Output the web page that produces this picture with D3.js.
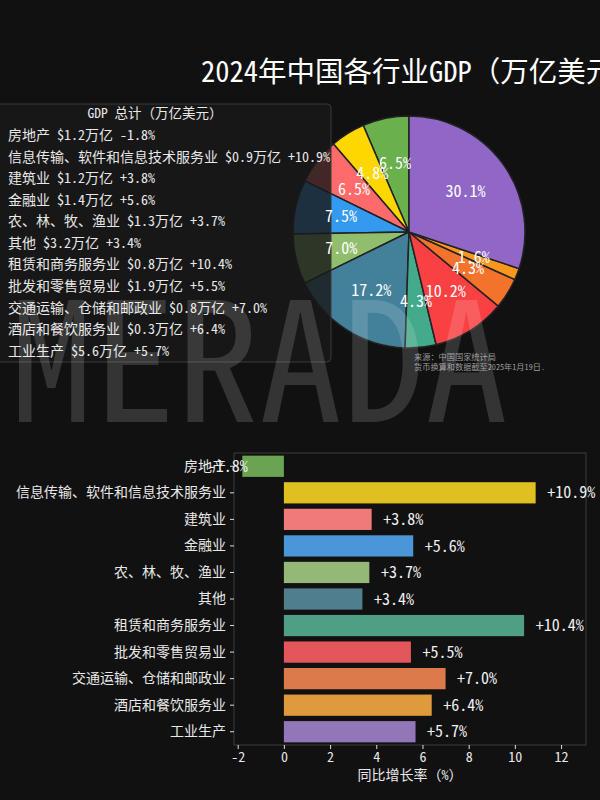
<!DOCTYPE html>
<html><head><meta charset="utf-8">
<script src="https://cdn.jsdelivr.net/npm/d3@7"></script>
<style>
html,body{margin:0;padding:0;background:#111111;}
svg{display:block;font-family:"Noto Sans Mono CJK SC","Noto Sans CJK SC",sans-serif;}
</style></head>
<body><svg id="c" width="600" height="800"></svg>
<script>
const categories = ['房地产','信息传输、软件和信息技术服务业','建筑业','金融业','农、林、牧、渔业','其他','租赁和商务服务业','批发和零售贸易业','交通运输、仓储和邮政业','酒店和餐饮服务业','工业生产'];
const gdp = [1.2, 0.9, 1.2, 1.4, 1.3, 3.2, 0.8, 1.9, 0.8, 0.3, 5.6];
const growth = [-1.8, 10.9, 3.8, 5.6, 3.7, 3.4, 10.4, 5.5, 7.0, 6.4, 5.7];
const pieColors = ['#6ab04c','#ffd700','#ff6b6b','#339af0','#90be6d','#43819a','#43aa8b','#f94144','#f3722c','#f8961e','#9067c6'];
const barColors = ['#6aa452','#e0c020','#ee7a7a','#4a96d8','#93b877','#4f7f8f','#4f9e86','#e3575c','#dd7a4a','#e09a3e','#9277b8'];
const xTicks = [-2, 0, 2, 4, 6, 8, 10, 12];
const titleText = '2024年中国各行业GDP（万亿美元）';
const legendTitle = 'GDP 总计（万亿美元）';
const sourceLines = ['来源：中国国家统计局', '货币换算和数据截至2025年1月19日.'];
const xLabel = '同比增长率（%）';
const watermark = 'MERADA';

const data = categories.map((c,i)=>({cat:c, gdp:gdp[i], growth:growth[i], pc:pieColors[i], bc:barColors[i]}));
const svg = d3.select('#c');
const total = d3.sum(gdp);
const FF = '"Noto Sans Mono CJK SC","Noto Sans CJK SC",sans-serif';

// Title
svg.append('text').attr('x',201).attr('y',82).attr('fill','#ffffff')
  .attr('font-size',28.5).text(titleText);

// Pie
const cx = 409, cy = 232, R = 116;
const pie = d3.pie().sort(null).value(d=>d.gdp).startAngle(0).endAngle(-2*Math.PI);
const arcs = pie(data);
const arc = d3.arc().innerRadius(0).outerRadius(R);
const labelArc = d3.arc().innerRadius(R*0.6).outerRadius(R*0.6);
const pg = svg.append('g').attr('transform',`translate(${cx},${cy})`);
pg.selectAll('path').data(arcs).join('path')
  .attr('d',arc).attr('fill',d=>d.data.pc)
  .attr('stroke','#222222').attr('stroke-width',1.5);

// Legend box
const lg = svg.append('g');
lg.append('rect').attr('x',-22).attr('y',104).attr('width',353).attr('height',258)
  .attr('rx',4).attr('fill','#191919').attr('fill-opacity',0.82)
  .attr('stroke','#3a3a3a').attr('stroke-width',1);
lg.append('text').attr('x',155).attr('y',118).attr('text-anchor','middle')
  .attr('fill','#e8e8e8').attr('font-size',13.5).text(legendTitle);
lg.selectAll('text.item').data(data).join('text').attr('class','item')
  .attr('x',8).attr('y',(d,i)=>135 + i*21.57 + 5)
  .attr('fill','#e8e8e8').attr('font-size',14)
  .text(d=>`${d.cat} $${d.gdp.toFixed(1)}万亿 ${d.growth>0?'+':''}${d.growth.toFixed(1)}%`);

// Pie labels (above legend)
const plg = svg.append('g').attr('transform',`translate(${cx},${cy})`);
plg.selectAll('text').data(arcs).join('text')
  .attr('transform',d=>`translate(${labelArc.centroid(d)})`)
  .attr('text-anchor','middle').attr('dy','0.35em')
  .attr('fill','#ffffff').attr('font-size',16)
  .text(d=>(d.data.gdp/total*100).toFixed(1)+'%');

// Source
svg.selectAll('text.src').data(sourceLines).join('text').attr('class','src')
  .attr('x',414).attr('y',(d,i)=>360 + i*10).attr('fill','#9a9a9a').attr('font-size',8.2)
  .text(d=>d);

// Watermark
svg.append('text').attr('x',10).attr('y',422).attr('fill','#ffffff').attr('fill-opacity',0.15)
  .attr('font-size',166).text(watermark);

// Bar chart
const x = d3.scaleLinear().domain([-2.16, 13.08]).range([234, 586]);
const y = d3.scaleBand().domain(categories).range([453, 745]).paddingInner(0.2).paddingOuter(0.1);
const bg = svg.append('g');
bg.selectAll('rect.bar').data(data).join('rect').attr('class','bar')
  .attr('x',d=>x(Math.min(0,d.growth))).attr('width',d=>Math.abs(x(d.growth)-x(0)))
  .attr('y',d=>y(d.cat)).attr('height',y.bandwidth()).attr('fill',d=>d.bc);
// frame
bg.append('rect').attr('x',234).attr('y',453).attr('width',352).attr('height',292)
  .attr('fill','none').attr('stroke','#3c3c3c').attr('stroke-width',1);
// x axis
const xa = bg.append('g').attr('transform','translate(0,745)')
  .call(d3.axisBottom(x).tickValues(xTicks).tickSize(4).tickPadding(3).tickFormat(d=>String(d)));
xa.select('.domain').remove();
xa.selectAll('line').attr('stroke','#dddddd');
xa.selectAll('text').attr('fill','#e8e8e8').attr('font-size',14).attr('font-family',FF);
// y axis
const ya = bg.append('g').attr('transform','translate(234,0)')
  .call(d3.axisLeft(y).tickSize(4).tickPadding(4));
ya.select('.domain').remove();
ya.selectAll('line').attr('stroke','#dddddd');
ya.selectAll('text').attr('fill','#e8e8e8').attr('font-size',14).attr('font-family',FF);
// value labels
bg.selectAll('text.val').data(data).join('text').attr('class','val')
  .attr('x',d=>d.growth>=0 ? x(d.growth+0.5) : x(d.growth-1.5))
  .attr('y',d=>y(d.cat)+y.bandwidth()/2).attr('dy','0.35em')
  .attr('fill','#f0f0f0').attr('font-size',16)
  .text(d=>`${d.growth>0?'+':''}${d.growth.toFixed(1)}%`);
// x label
svg.append('text').attr('x',410).attr('y',780).attr('text-anchor','middle')
  .attr('fill','#e8e8e8').attr('font-size',14).text(xLabel);
</script></body></html>
